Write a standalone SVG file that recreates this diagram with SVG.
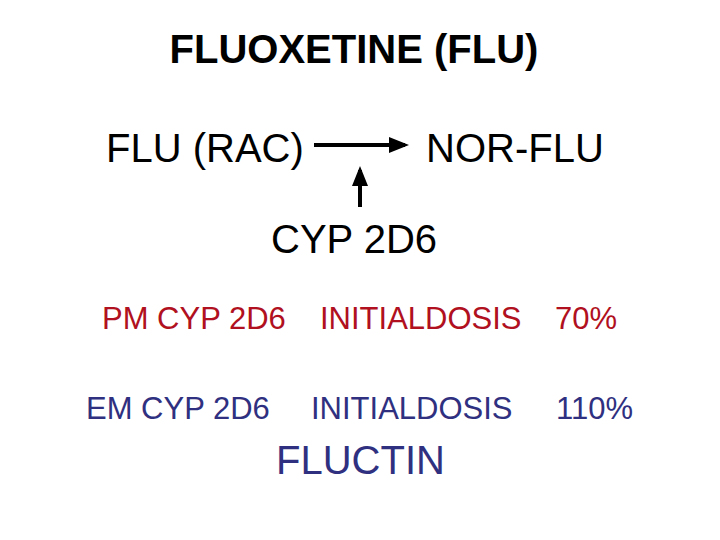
<svg xmlns="http://www.w3.org/2000/svg" width="720" height="540" viewBox="0 0 720 540">
<style>
text{font-family:"Liberation Sans",Arial,sans-serif}
.k{fill:#000;font-size:40px}
.r{fill:#b01020;font-size:31px}
.b{fill:#303080;font-size:31px}
.c{stroke:#000;stroke-width:4;fill:none}
</style>
<defs><marker id="a" markerWidth="5" markerHeight="4" refX="4" refY="2" orient="auto"><path d="M0,0L5,2L0,4Z" fill="#000"/></marker></defs>
<rect width="720" height="540" fill="#fff"/>
<g id="title"><text x="354" y="63" text-anchor="middle" style="font-size:40px;font-weight:bold">FLUOXETINE (FLU)</text></g>
<g id="flu"><text class="k" x="106" y="162">FLU (RAC)</text></g>
<g id="nor"><text class="k" x="426" y="162">NOR-FLU</text></g>
<g id="cyp"><text class="k" x="271" y="253">CYP 2D6</text></g>
<g id="connectors">
<line class="c" x1="314" y1="145" x2="405" y2="145" marker-end="url(#a)"/>
<line class="c" x1="360" y1="207" x2="360" y2="170" marker-end="url(#a)"/>
</g>
<g id="pm"><text class="r" x="102" y="329">PM CYP 2D6</text><text class="r" x="320" y="329">INITIALDOSIS</text><text class="r" x="555" y="329">70%</text></g>
<g id="em"><text class="b" x="86" y="419">EM CYP 2D6</text><text class="b" x="311" y="419">INITIALDOSIS</text><text class="b" x="556" y="419">110%</text></g>
<g id="fluctin"><text class="b" x="276" y="474" style="font-size:40px">FLUCTIN</text></g>
</svg>
